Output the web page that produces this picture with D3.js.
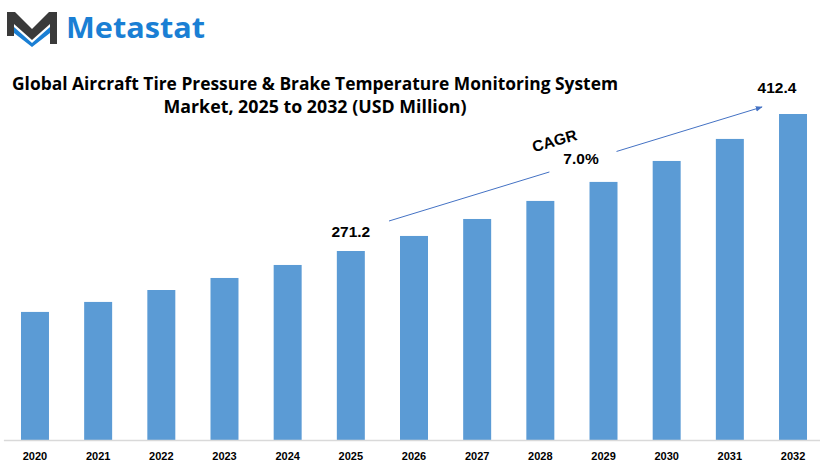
<!DOCTYPE html>
<html>
<head>
<meta charset="utf-8">
<script src="https://cdn.jsdelivr.net/npm/d3@7"></script>
<style>
  html, body { margin: 0; padding: 0; background: #fff; }
  svg { display: block; }
</style>
</head>
<body>
<div id="chart"></div>
<script>
// data
const years = ["2020", "2021", "2022", "2023", "2024", "2025", "2026", "2027", "2028", "2029", "2030", "2031", "2032"];
const marketValues = [208.4, 218.7, 231.0, 243.4, 256.8, 271.2, 286.7, 304.2, 322.8, 342.4, 364.0, 386.7, 412.4];
const labelledYears = ["2025", "2032"];
const cagrText = ["CAGR", "7.0%"];
const titleLines = [
  "Global Aircraft Tire Pressure & Brake Temperature Monitoring System",
  "Market, 2025 to 2032 (USD Million)"
];

const svgWidth = 820;
const svgHeight = 467;
const baseline = 440;
const barColour = "#5b9bd5";

const svg = d3.select("#chart")
  .append("svg")
  .attr("width", svgWidth)
  .attr("height", svgHeight);

// escalas
const xScale = d3.scaleBand()
  .domain(years)
  .range([3.4, 824.6])
  .paddingInner(0.557)
  .paddingOuter(0.2785);

// the value axis does not start at zero in the original
const yScale = d3.scaleLinear()
  .domain([76.4, 412.4])
  .range([baseline, 114]);

const data = years.map((y, i) => ({ year: y, value: marketValues[i] }));

// barras
svg.selectAll("rect.bar")
  .data(data)
  .enter()
  .append("rect")
  .attr("class", "bar")
  .attr("x", d => xScale(d.year))
  .attr("y", d => yScale(d.value))
  .attr("width", xScale.bandwidth())
  .attr("height", d => baseline - yScale(d.value))
  .attr("fill", barColour);

// eixo X
const xAxis = svg.append("g")
  .attr("transform", `translate(0, ${baseline})`)
  .call(d3.axisBottom(xScale).tickSize(0).tickPadding(12));
xAxis.select(".domain").attr("stroke", "#d9d9d9").attr("stroke-width", 1.5);
xAxis.selectAll("text")
  .attr("font-family", "'Liberation Sans', Arial, sans-serif")
  .attr("font-weight", "bold")
  .attr("font-size", 11)
  .attr("fill", "#000");

// value labels
const labelFont = "'Liberation Sans', Arial, sans-serif";
svg.selectAll("text.val")
  .data(data.filter(d => labelledYears.includes(d.year)))
  .enter()
  .append("text")
  .attr("class", "val")
  .attr("x", d => d.year === "2032" ? xScale(d.year) + xScale.bandwidth() / 2 - 16 : xScale(d.year) + xScale.bandwidth() / 2)
  .attr("y", d => d.year === "2032" ? yScale(d.value) - 21 : yScale(d.value) - 14)
  .attr("text-anchor", "middle")
  .attr("font-family", labelFont)
  .attr("font-weight", "bold")
  .attr("font-size", 15.5)
  .attr("fill", "#000")
  .text(d => d3.format(".1f")(d.value));

// CAGR arrow
const defs = svg.append("defs");
defs.append("marker")
  .attr("id", "arrow")
  .attr("viewBox", "0 0 10 10")
  .attr("refX", 9)
  .attr("refY", 5)
  .attr("markerWidth", 7)
  .attr("markerHeight", 7)
  .attr("orient", "auto")
  .append("path")
  .attr("d", "M0,1 L10,5 L0,9 Z")
  .attr("fill", "#4472c4");

const a0 = [389, 221], a1 = [762, 107];
const lerp = t => [a0[0] + (a1[0] - a0[0]) * t, a0[1] + (a1[1] - a0[1]) * t];
const gapStart = lerp(0.43), gapEnd = lerp(0.61);
svg.append("line")
  .attr("x1", a0[0]).attr("y1", a0[1])
  .attr("x2", gapStart[0]).attr("y2", gapStart[1])
  .attr("stroke", "#4472c4").attr("stroke-width", 1);
svg.append("line")
  .attr("x1", gapEnd[0]).attr("y1", gapEnd[1])
  .attr("x2", a1[0]).attr("y2", a1[1])
  .attr("stroke", "#4472c4").attr("stroke-width", 1)
  .attr("marker-end", "url(#arrow)");

svg.append("text")
  .attr("transform", "translate(556,146) rotate(-16)")
  .attr("text-anchor", "middle")
  .attr("font-family", labelFont)
  .attr("font-weight", "bold")
  .attr("font-size", 15.5)
  .attr("fill", "#000")
  .text(cagrText[0]);
svg.append("text")
  .attr("x", 581)
  .attr("y", 164)
  .attr("text-anchor", "middle")
  .attr("font-family", labelFont)
  .attr("font-weight", "bold")
  .attr("font-size", 15.5)
  .attr("fill", "#000")
  .text(cagrText[1]);

// titulo
svg.selectAll("text.title")
  .data(titleLines)
  .enter()
  .append("text")
  .attr("class", "title")
  .attr("x", 315)
  .attr("y", (d, i) => 90 + i * 23)
  .attr("text-anchor", "middle")
  .attr("font-family", "'Open Sans', 'Liberation Sans', sans-serif")
  .attr("font-weight", "bold")
  .attr("font-size", 17)
  .attr("textLength", (d, i) => i === 0 ? 606 : 303)
  .attr("lengthAdjust", "spacingAndGlyphs")
  .attr("fill", "#000")
  .text(d => d);

// logo
const logo = svg.append("g");
logo.append("path")
  .attr("d", "M7,12 L15,12 L32,29 L49,12 L57,12 L57,44 L50,44 L50,24 L32,40 L14,24 L14,36 L7,36 Z")
  .attr("fill", "#3a3a3a");
logo.append("path")
  .attr("d", "M14,27 L32,43 L50,27 L50,33 L32,47 L14,33 Z")
  .attr("fill", "#1a7fd4");
logo.append("text")
  .attr("x", 66)
  .attr("y", 38)
  .attr("font-family", "'Open Sans', 'Liberation Sans', sans-serif")
  .attr("font-weight", "bold")
  .attr("font-size", 28)
  .attr("textLength", 139)
  .attr("lengthAdjust", "spacingAndGlyphs")
  .attr("fill", "#1a7fd4")
  .text("Metastat");
</script>
</body>
</html>
